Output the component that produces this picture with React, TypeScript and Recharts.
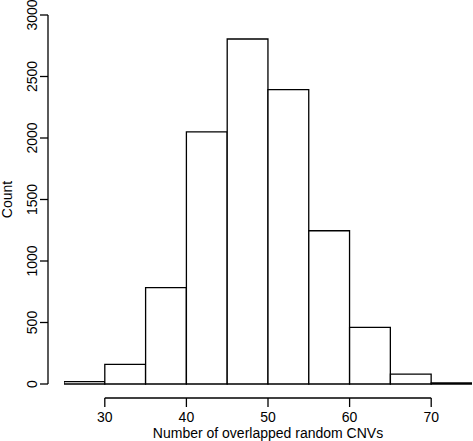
import { ComposedChart, Bar, XAxis, YAxis, ReferenceLine } from 'recharts'

// histogram bins (lower edge, width 5) and counts
const binStarts = [25, 30, 35, 40, 45, 50, 55, 60, 65, 70]
const counts = [20, 160, 783, 2050, 2805, 2393, 1246, 460, 81, 9]
const xTicks = [30, 40, 50, 60, 70]
const yTicks = [0, 500, 1000, 1500, 2000, 2500, 3000]
const BIN_WIDTH = 5

const data = binStarts.map((b, i) => ({ mid: b + BIN_WIDTH / 2, count: counts[i] }))

const FONT = '"Liberation Sans", Arial, Helvetica, sans-serif'
const W = 473
const H = 441
const LEFT = 48
const PAD = 16
const RIGHT = 1
// a hair under the band width, otherwise recharts shrinks bars to 90%
const barPx = (W - LEFT - PAD - RIGHT) / binStarts.length - 0.05

function YTick({ x, y, payload }: any) {
  return (
    <text
      x={x}
      y={y}
      transform={`rotate(-90, ${x}, ${y})`}
      textAnchor="middle"
      dominantBaseline="central"
      fontSize={14}
      fontFamily={FONT}
      fill="#000"
    >
      {payload.value}
    </text>
  )
}

function XTick({ x, y, payload }: any) {
  return (
    <g>
      <line x1={x} y1={y + 14} x2={x} y2={y + 23} stroke="#000" strokeWidth={1.3} />
      <text x={x} y={y + 33} textAnchor="middle" dominantBaseline="central" fontSize={14} fontFamily={FONT} fill="#000">
        {payload.value}
      </text>
    </g>
  )
}

export default function App() {
  return (
    <div style={{ position: 'absolute', left: 0, top: 0, background: '#fff' }}>
      <ComposedChart
        width={W}
        height={H}
        data={data}
        margin={{ top: 15, right: RIGHT, bottom: 0, left: 0 }}
        barCategoryGap={0}
        barGap={0}
      >
        <XAxis
          dataKey="mid"
          type="number"
          domain={[25, 75]}
          ticks={xTicks}
          allowDataOverflow
          padding={{ left: PAD, right: 0 }}
          height={57}
          axisLine={false}
          tickLine={false}
          tickSize={0}
          tickMargin={0}
          tick={<XTick />}
          interval={0}
          label={{
            value: 'Number of overlapped random CNVs',
            position: 'insideBottom',
            offset: 3,
            dx: 8,
            style: { fontSize: 14, fontFamily: FONT, fill: '#000' },
          }}
        />
        <YAxis
          width={LEFT}
          domain={[0, 3000]}
          ticks={yTicks}
          interval={0}
          tickSize={8}
          tickMargin={8}
          axisLine={{ stroke: '#000', strokeWidth: 1.3 }}
          tickLine={{ stroke: '#000', strokeWidth: 1.3 }}
          tick={<YTick />}
          label={{
            value: 'Count',
            angle: -90,
            position: 'center',
            dx: -17,
            style: { fontSize: 14, fontFamily: FONT, fill: '#000' },
          }}
        />
        <ReferenceLine
          segment={[
            { x: 30, y: -114 },
            { x: 70, y: -114 },
          ]}
          stroke="#000"
          strokeWidth={1.3}
          ifOverflow="visible"
        />
        <Bar dataKey="count" barSize={barPx} fill="#fff" stroke="#000" strokeWidth={1.3} isAnimationActive={false} />
      </ComposedChart>
    </div>
  )
}
